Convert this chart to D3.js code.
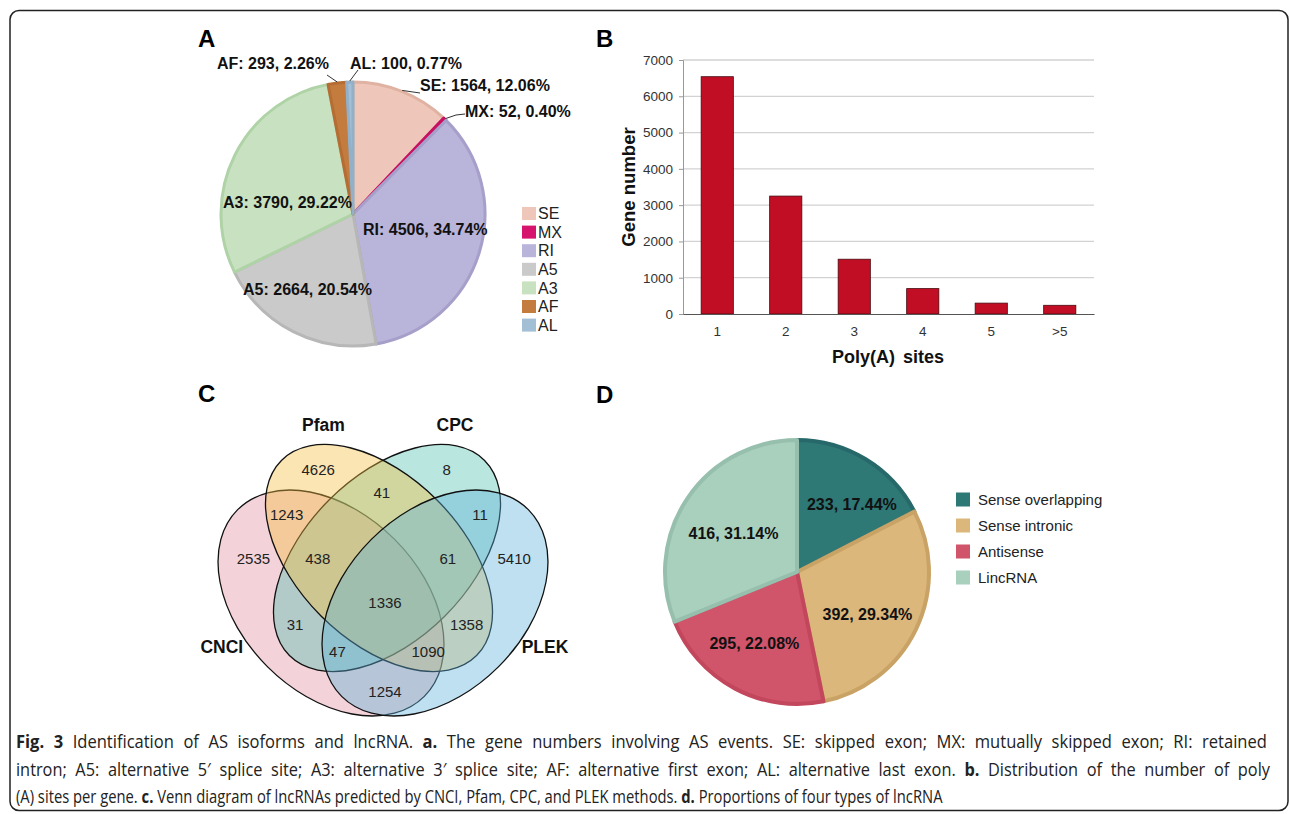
<!DOCTYPE html>
<html><head><meta charset="utf-8">
<script src="https://cdn.jsdelivr.net/npm/d3@7"></script>
<style>
body{margin:0;background:#fff;}
svg{display:block;}
</style></head><body>
<svg id="chart" width="1290" height="814"></svg>
<script>
// ---------------- DATA ----------------
const asCategories = ["SE","MX","RI","A5","A3","AF","AL"];
const asValues = [1564, 52, 4506, 2664, 3790, 293, 100];
const asPercents = ["12.06%","0.40%","34.74%","20.54%","29.22%","2.26%","0.77%"];

const polyCategories = ["1","2","3","4","5",">5"];
const polyValues = [6540, 3250, 1510, 700, 300, 240];
const polyTicks = [0,1000,2000,3000,4000,5000,6000,7000];

const vennSets = ["CNCI","Pfam","CPC","PLEK"];
const vennRegions = [["Pfam"],["CPC"],["Pfam","CPC"],["CNCI","Pfam"],["CPC","PLEK"],["CNCI"],["CNCI","Pfam","CPC"],["Pfam","CPC","PLEK"],["PLEK"],["CNCI","Pfam","CPC","PLEK"],["CNCI","CPC"],["Pfam","PLEK"],["CNCI","CPC","PLEK"],["CNCI","Pfam","PLEK"],["CNCI","PLEK"]];
const vennCounts = [4626, 8, 41, 1243, 11, 2535, 438, 61, 5410, 1336, 31, 1358, 47, 1090, 1254];

const lncCategories = ["Sense overlapping","Sense intronic","Antisense","LincRNA"];
const lncValues = [233, 392, 295, 416];
const lncPercents = ["17.44%","29.34%","22.08%","31.14%"];

// ---------------- LAYOUT / STYLE ----------------
const FONT = "'Liberation Sans', Arial, Helvetica, sans-serif";
const CAPFONT = "'Open Sans', 'Noto Sans', sans-serif";
const svg = d3.select("#chart");

svg.append("rect").attr("x",10).attr("y",10.5).attr("width",1278).attr("height",800)
  .attr("rx",9).attr("fill","none").attr("stroke","#222").attr("stroke-width",1.5);

const panelLetters = [["A",198,47],["B",596,47],["C",198,402],["D",596,403]];
svg.selectAll("text.panel").data(panelLetters).join("text").attr("class","panel")
  .attr("x",d=>d[1]).attr("y",d=>d[2]).text(d=>d[0])
  .attr("font-family",FONT).attr("font-weight","bold").attr("font-size",24).attr("fill","#000");

// ---------------- PANEL A : pie ----------------
const asFill = {SE:"#eec7ba", MX:"#d6136d", RI:"#b9b4da", A5:"#cacaca", A3:"#c8e2c1", AF:"#c47b3e", AL:"#a3bfd6"};
const asLine = {SE:"#e0b2a2", MX:"#c80f62", RI:"#a69fca", A5:"#b7b7b7", A3:"#afd3a7", AF:"#b56d33", AL:"#92b0c8"};
const rA = 132;
const gA = svg.append("g").attr("transform","translate(353,214)");
const pieA = d3.pie().sort(null).value(d=>d.v)(asCategories.map((c,i)=>({c, v:asValues[i], p:asPercents[i]})));
const arcA = d3.arc().innerRadius(0).outerRadius(rA);
const edgeA = d3.arc().innerRadius(rA+1).outerRadius(rA+1);
gA.selectAll("path.slice").data(pieA).join("path").attr("class","slice")
  .attr("d",arcA).attr("fill",d=>asFill[d.data.c]).attr("stroke",d=>asLine[d.data.c])
  .attr("stroke-width",3).attr("stroke-linejoin","round");

const asLabelLayout = {
  AF:{dx:-24, dy:-151, anchor:"end", lead:[[-26,-139]]},
  AL:{dx:-3, dy:-151, anchor:"start", lead:[[5,-144]]},
  SE:{dx:67, dy:-129, anchor:"start", lead:[[67,-121]]},
  MX:{dx:112, dy:-103, anchor:"start", lead:[[112,-100],[103,-99]]},
  RI:{dx:10, dy:15, anchor:"start"},
  A5:{dx:-110, dy:75, anchor:"start"},
  A3:{dx:-130, dy:-12, anchor:"start"}
};
gA.selectAll("path.lead").data(pieA.filter(d=>asLabelLayout[d.data.c].lead)).join("path").attr("class","lead")
  .attr("d",d=>d3.line()(asLabelLayout[d.data.c].lead.concat([edgeA.centroid(d)])))
  .attr("fill","none").attr("stroke","#333").attr("stroke-width",1);
gA.selectAll("text.lbl").data(pieA).join("text").attr("class","lbl")
  .attr("x",d=>asLabelLayout[d.data.c].dx).attr("y",d=>asLabelLayout[d.data.c].dy).attr("dy","0.35em")
  .attr("text-anchor",d=>asLabelLayout[d.data.c].anchor)
  .attr("font-family",FONT).attr("font-weight","bold").attr("font-size",16).attr("fill","#111")
  .text(d=>`${d.data.c}: ${d.data.v}, ${d.data.p}`);

const legA = svg.append("g").attr("transform","translate(522,213.5)");
const legAItem = legA.selectAll("g").data(asCategories).join("g").attr("transform",(d,i)=>`translate(0,${i*18.6})`);
legAItem.append("rect").attr("x",0).attr("y",-6.5).attr("width",14).attr("height",13).attr("fill",d=>asFill[d]);
legAItem.append("text").attr("x",16).attr("y",0).attr("dy","0.35em").text(d=>d)
  .attr("font-family",FONT).attr("font-size",16).attr("fill","#222");

// ---------------- PANEL B : bars ----------------
const xB = d3.scaleBand().domain(polyCategories).range([683,1094]).paddingInner(0.53).paddingOuter(0.265);
const yB = d3.scaleLinear().domain([0,7000]).range([314,60]);
const gB = svg.append("g");
gB.selectAll("line.grid").data(polyTicks.filter(t=>t>0)).join("line").attr("class","grid")
  .attr("x1",683).attr("x2",1094).attr("y1",d=>yB(d)).attr("y2",d=>yB(d))
  .attr("stroke","#d2d2d2").attr("stroke-width",1.3);
const yAxis = gB.append("g").attr("transform","translate(683,0)")
  .call(d3.axisLeft(yB).tickValues(polyTicks).tickSize(4).tickPadding(6).tickFormat(d3.format("d")));
yAxis.select(".domain").attr("stroke","#999");
yAxis.selectAll(".tick line").attr("stroke","#999");
yAxis.selectAll("text").attr("font-family",FONT).attr("font-size",13.5).attr("fill","#333");
gB.selectAll("rect.bar").data(polyCategories.map((c,i)=>({c,v:polyValues[i]}))).join("rect").attr("class","bar")
  .attr("x",d=>xB(d.c)).attr("width",xB.bandwidth()).attr("y",d=>yB(d.v)).attr("height",d=>yB(0)-yB(d.v))
  .attr("fill","#c10e24").attr("stroke","#4a0a10").attr("stroke-width",0.8);
const xAxis = gB.append("g").attr("transform","translate(0,314)")
  .call(d3.axisBottom(xB).tickSize(0).tickPadding(12));
xAxis.select(".domain").attr("stroke","#555").attr("stroke-width",1.2);
xAxis.selectAll("text").attr("font-family",FONT).attr("font-size",13.5).attr("fill","#333");
gB.append("text").attr("x",888).attr("y",357).attr("dy","0.35em").attr("text-anchor","middle")
  .attr("font-family",FONT).attr("font-weight","bold").attr("font-size",18).attr("word-spacing",3).attr("fill","#111")
  .text("Poly(A) sites");
gB.append("text").attr("transform","translate(629,187) rotate(-90)").attr("dy","0.35em").attr("text-anchor","middle")
  .attr("font-family",FONT).attr("font-weight","bold").attr("font-size",18.5).attr("fill","#111")
  .text("Gene number");

// ---------------- PANEL C : Venn ----------------
const vx = d3.scaleLinear().domain([0,1]).range([183,583]);
const vy = d3.scaleLinear().domain([0,1]).range([786,386]);
const vr = v => vx(v)-vx(0);
const vennShapes = [
  {set:"CNCI", cx:0.37, cy:0.4575, a:0.33, b:0.225, rot:45, color:"#e1919f"},
  {set:"CPC", cx:0.51, cy:0.57, a:0.345, b:0.205, rot:-45, color:"#50c0af"},
  {set:"Pfam", cx:0.49, cy:0.57, a:0.345, b:0.205, rot:45, color:"#f5be3e"},
  {set:"PLEK", cx:0.63, cy:0.4575, a:0.33, b:0.225, rot:-45, color:"#5cb1d9"}
];
const gC = svg.append("g");
gC.selectAll("ellipse").data(vennShapes).join("ellipse")
  .attr("transform",d=>`translate(${vx(d.cx)},${vy(d.cy)}) rotate(${d.rot})`)
  .attr("rx",d=>vr(d.a)).attr("ry",d=>vr(d.b))
  .attr("fill",d=>d.color).attr("fill-opacity",0.4).attr("stroke","#111").attr("stroke-width",1.3);
const vennLabelAt = [[0.338,0.79],[0.659,0.79],[0.497,0.733],[0.259,0.6775],[0.7425,0.6775],[0.176,0.567],[0.337,0.567],[0.662,0.567],[0.828,0.567],[0.505,0.457],[0.28,0.4025],[0.709,0.4025],[0.386,0.335],[0.613,0.335],[0.505,0.236]];
gC.selectAll("text.cnt").data(vennCounts).join("text").attr("class","cnt")
  .attr("x",(d,i)=>vx(vennLabelAt[i][0])).attr("y",(d,i)=>vy(vennLabelAt[i][1])).attr("dy","0.35em")
  .attr("text-anchor","middle").attr("font-family",FONT).attr("font-size",15).attr("fill","#222").text(d=>d);
const vennSetAt = {CNCI:[0.097,0.348], Pfam:[0.351,0.9025], CPC:[0.68,0.9025], PLEK:[0.905,0.348]};
gC.selectAll("text.set").data(vennSets).join("text").attr("class","set")
  .attr("x",d=>vx(vennSetAt[d][0])).attr("y",d=>vy(vennSetAt[d][1])).attr("dy","0.35em")
  .attr("text-anchor","middle").attr("font-family",FONT).attr("font-weight","bold").attr("font-size",17.5).attr("fill","#111").text(d=>d);

// ---------------- PANEL D : pie ----------------
const lncFill = ["#2e7876","#dcb77b","#d0546a","#a9cfbd"];
const lncLine = ["#27696a","#c9a365","#c2465c","#97bfad"];
const rD = 132;
const gD = svg.append("g").attr("transform","translate(797,572)");
const pieD = d3.pie().sort(null).value(d=>d.v)(lncCategories.map((c,i)=>({c, i, v:lncValues[i], p:lncPercents[i]})));
gD.selectAll("path").data(pieD).join("path").attr("d",d3.arc().innerRadius(0).outerRadius(rD))
  .attr("fill",d=>lncFill[d.data.i]).attr("stroke",d=>lncLine[d.data.i]).attr("stroke-width",4).attr("stroke-linejoin","round");
const midD = d3.arc().innerRadius(67).outerRadius(67);
const lncLabelShift = [[20,-10],[10,13],[-11,12],[-8,-1]];
gD.selectAll("text").data(pieD).join("text")
  .attr("x",d=>midD.centroid(d)[0]+lncLabelShift[d.data.i][0]).attr("y",d=>midD.centroid(d)[1]+lncLabelShift[d.data.i][1])
  .attr("dy","0.35em").attr("text-anchor","middle")
  .attr("font-family",FONT).attr("font-weight","bold").attr("font-size",16).attr("fill","#111")
  .text(d=>`${d.data.v}, ${d.data.p}`);
const legD = svg.append("g").attr("transform","translate(956,499.5)");
const legDItem = legD.selectAll("g").data(lncCategories).join("g").attr("transform",(d,i)=>`translate(0,${i*26})`);
legDItem.append("rect").attr("x",0).attr("y",-7).attr("width",14).attr("height",14).attr("fill",(d,i)=>lncFill[i]);
legDItem.append("text").attr("x",22).attr("y",0).attr("dy","0.35em").text(d=>d)
  .attr("font-family",FONT).attr("font-size",15).attr("fill","#222");

// ---------------- CAPTION (justified, condensed) ----------------
const captionLines = [
  {len:1252, justify:true, parts:[["Fig. 3",true],[" Identification of AS isoforms and lncRNA. ",false],["a.",true],[" The gene numbers involving AS events. SE: skipped exon; MX: mutually skipped exon; RI: retained",false]]},
  {len:1255, justify:true, parts:[["intron; A5: alternative 5\u2032 splice site; A3: alternative 3\u2032 splice site; AF: alternative first exon; AL: alternative last exon. ",false],["b.",true],[" Distribution of the number of poly",false]]},
  {len:927, justify:false, parts:[["(A) sites per gene. ",false],["c.",true],[" Venn diagram of lncRNAs predicted by CNCI, Pfam, CPC, and PLEK methods. ",false],["d.",true],[" Proportions of four types of lncRNA",false]]}
];
const capT = svg.selectAll("text.cap").data(captionLines).join("text").attr("class","cap")
  .attr("x",0).attr("y",0)
  .attr("font-family",CAPFONT).attr("font-size",18).attr("fill","#222");
capT.selectAll("tspan").data(d=>d.parts).join("tspan").text(d=>d[0]).attr("font-weight",d=>d[1]?"bold":"normal");
const natural = capT.nodes().map(n=>n.getComputedTextLength());
const sxLast = captionLines[2].len / natural[2];
capT.each(function(d,i){
  const el = d3.select(this);
  let sx = sxLast;
  if (d.justify) {
    const fit = d.len / natural[i];
    sx = (sxLast + fit) / 2;
    const spaces = d.parts.map(p=>p[0]).join("").split(" ").length - 1;
    el.attr("word-spacing", Math.max(0,(d.len/sx - natural[i]) / spaces));
  }
  el.attr("transform",`translate(16,${748+i*27.5}) scale(${sx},1)`);
});
</script>
</body></html>
